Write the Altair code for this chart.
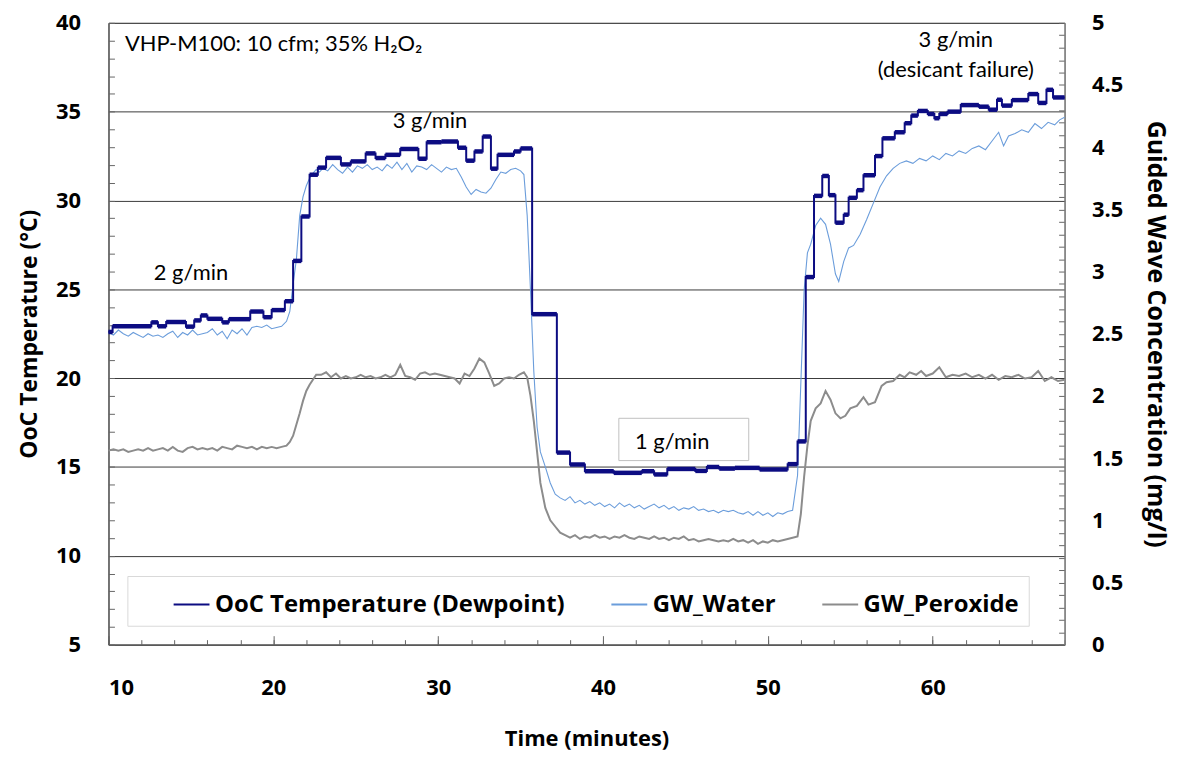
import altair as alt
import pandas as pd

# ---------------- data ----------------
# OoC temperature (dewpoint), step series: start time of each step (min) and value (degC)
dew_t = [10.0, 10.25, 12.6, 13.0, 13.5, 14.7, 15.2, 15.6, 16.0, 16.9,
         17.3, 18.6, 19.4, 19.9, 20.7, 21.2, 21.7, 22.2, 22.7, 23.2,
         24.1, 24.7, 25.6, 26.2, 26.8, 27.7, 28.8, 29.3, 30.2, 31.2,
         31.7, 32.2, 32.7, 33.2, 33.6, 34.6, 35.0, 35.7, 37.2, 38.0,
         38.9, 40.65, 42.35, 43.1, 43.9, 45.6, 46.3, 47.05, 48.0, 49.5,
         51.2, 51.8, 52.3, 52.8, 53.3, 53.7, 54.1, 54.6, 54.9, 55.4,
         55.8, 56.5, 56.95, 57.7, 58.3, 58.7, 59.1, 59.7, 60.1, 60.4,
         60.9, 61.7, 62.8, 63.4, 63.9, 64.2, 64.8, 65.8, 66.4, 66.9,
         67.3]
dew_v = [22.6, 22.92, 23.14, 22.92, 23.16, 22.9, 23.25, 23.53, 23.34, 23.14,
         23.32, 23.75, 23.43, 23.83, 24.33, 26.6, 29.1, 31.45, 31.85, 32.4,
         32.03, 32.2, 32.65, 32.39, 32.57, 32.9, 32.35, 33.28, 33.32, 32.97,
         32.24, 32.76, 33.6, 31.79, 32.57, 32.76, 32.93, 23.6, 15.81, 15.14,
         14.76, 14.67, 14.76, 14.58, 14.89, 14.78, 15.0, 14.91, 14.95, 14.86,
         15.16, 16.44, 25.69, 30.26, 31.38, 30.3, 28.75, 29.2, 30.15, 30.58,
         31.42, 32.5, 33.5, 33.84, 34.35, 34.78, 35.04, 34.87, 34.63, 34.87,
         35.0, 35.37, 35.28, 35.11, 35.67, 35.34, 35.65, 35.99, 35.49, 36.23,
         35.8]
T_END = 68

# Guided wave water concentration (mg/l)
water_t = [10.0, 10.3, 10.6, 10.9, 11.2, 11.5, 11.8, 12.1, 12.4, 12.7,
           13.0, 13.3, 13.6, 13.9, 14.2, 14.5, 14.8, 15.1, 15.4, 15.7,
           16.0, 16.3, 16.6, 16.9, 17.2, 17.5, 17.8, 18.1, 18.4, 18.7,
           19.0, 19.3, 19.6, 19.9, 20.2, 20.5, 20.8, 21.0, 21.2, 21.4,
           21.6, 21.8, 22.0, 22.2, 22.4, 22.6, 22.8, 23.0, 23.3, 23.6,
           23.9, 24.2, 24.5, 24.8, 25.1, 25.4, 25.7, 26.0, 26.3, 26.6,
           26.9, 27.2, 27.5, 27.8, 28.1, 28.4, 28.7, 29.0, 29.3, 29.6,
           29.9, 30.2, 30.5, 30.8, 31.1, 31.4, 31.7, 32.0, 32.3, 32.6,
           32.9, 33.2, 33.5, 33.8, 34.1, 34.4, 34.7, 35.0, 35.2, 35.4,
           35.6, 35.8, 36.0, 36.2, 36.5, 36.8, 37.1, 37.4, 37.7, 38.0,
           38.3, 38.6, 38.9, 39.2, 39.5, 39.8, 40.1, 40.4, 40.7, 41.0,
           41.3, 41.6, 41.9, 42.2, 42.5, 42.8, 43.1, 43.4, 43.7, 44.0,
           44.3, 44.6, 44.9, 45.2, 45.5, 45.8, 46.1, 46.4, 46.7, 47.0,
           47.3, 47.6, 47.9, 48.2, 48.5, 48.8, 49.1, 49.4, 49.7, 50.0,
           50.3, 50.6, 50.9, 51.2, 51.5, 51.8, 52.0, 52.2, 52.4, 52.6,
           52.9, 53.2, 53.5, 53.8, 54.1, 54.3, 54.6, 54.9, 55.2, 55.6,
           56.0, 56.4, 56.8, 57.2, 57.6, 58.0, 58.4, 58.8, 59.2, 59.6,
           60.0, 60.4, 60.8, 61.2, 61.6, 62.0, 62.4, 62.8, 63.2, 63.6,
           64.0, 64.3, 64.6, 65.0, 65.4, 65.8, 66.2, 66.6, 67.0, 67.4,
           67.7, 68.0]
water_c = [2.51, 2.49, 2.53, 2.50, 2.48, 2.51, 2.49, 2.47, 2.50, 2.48,
           2.49, 2.47, 2.50, 2.52, 2.47, 2.51, 2.49, 2.53, 2.49, 2.50,
           2.51, 2.54, 2.49, 2.52, 2.46, 2.53, 2.50, 2.54, 2.49, 2.55,
           2.56, 2.55, 2.57, 2.54, 2.55, 2.56, 2.60, 2.68, 2.90, 3.10,
           3.45, 3.60, 3.69, 3.75, 3.79, 3.82, 3.80, 3.83, 3.81, 3.86,
           3.82, 3.79, 3.84, 3.80, 3.85, 3.83, 3.86, 3.82, 3.84, 3.81,
           3.86, 3.83, 3.88, 3.82, 3.87, 3.80, 3.85, 3.84, 3.82, 3.86,
           3.83, 3.80, 3.84, 3.82, 3.83, 3.76, 3.68, 3.62, 3.66, 3.64,
           3.63, 3.67, 3.74, 3.80, 3.79, 3.82, 3.83, 3.81, 3.78, 3.45,
           2.85, 2.20, 1.75, 1.55, 1.43, 1.30, 1.21, 1.18, 1.16, 1.19,
           1.14, 1.16, 1.13, 1.15, 1.12, 1.14, 1.11, 1.13, 1.10, 1.14,
           1.11, 1.13, 1.10, 1.12, 1.09, 1.11, 1.13, 1.10, 1.12, 1.09,
           1.11, 1.08, 1.10, 1.09, 1.11, 1.08, 1.09, 1.07, 1.08, 1.06,
           1.08, 1.07, 1.08, 1.06, 1.05, 1.07, 1.04, 1.07, 1.04, 1.06,
           1.03, 1.06, 1.05, 1.07, 1.08, 1.36, 2.10, 2.85, 3.15, 3.22,
           3.37, 3.43, 3.38, 3.22, 2.98, 2.92, 3.08, 3.19, 3.21, 3.30,
           3.42, 3.55, 3.68, 3.77, 3.83, 3.87, 3.89, 3.87, 3.91, 3.89,
           3.93, 3.90, 3.95, 3.93, 3.97, 3.95, 3.99, 4.01, 3.98, 4.05,
           4.12, 4.01, 4.09, 4.11, 4.14, 4.12, 4.19, 4.15, 4.20, 4.18,
           4.22, 4.24]

# Guided wave peroxide concentration (mg/l)
perox_t = [10.0, 10.3, 10.6, 10.9, 11.2, 11.5, 11.8, 12.1, 12.4, 12.7,
           13.0, 13.3, 13.6, 13.9, 14.2, 14.5, 14.8, 15.1, 15.4, 15.7,
           16.0, 16.3, 16.6, 16.9, 17.2, 17.5, 17.8, 18.1, 18.4, 18.7,
           19.0, 19.3, 19.6, 19.9, 20.2, 20.5, 20.8, 21.0, 21.2, 21.4,
           21.6, 21.8, 22.0, 22.2, 22.4, 22.6, 22.9, 23.2, 23.5, 23.8,
           24.1, 24.4, 24.7, 25.0, 25.3, 25.6, 25.9, 26.2, 26.5, 26.8,
           27.1, 27.4, 27.7, 28.0, 28.3, 28.6, 28.9, 29.2, 29.5, 29.8,
           30.1, 30.4, 30.7, 31.0, 31.3, 31.6, 31.9, 32.2, 32.5, 32.8,
           33.1, 33.4, 33.7, 34.0, 34.3, 34.6, 34.9, 35.2, 35.4, 35.6,
           35.8, 36.0, 36.2, 36.5, 36.8, 37.1, 37.4, 37.7, 38.0, 38.3,
           38.6, 38.9, 39.2, 39.5, 39.8, 40.1, 40.4, 40.7, 41.0, 41.3,
           41.6, 41.9, 42.2, 42.5, 42.8, 43.1, 43.4, 43.7, 44.0, 44.3,
           44.6, 44.9, 45.2, 45.5, 45.8, 46.1, 46.4, 46.7, 47.0, 47.3,
           47.6, 47.9, 48.2, 48.5, 48.8, 49.1, 49.4, 49.7, 50.0, 50.3,
           50.6, 50.9, 51.2, 51.5, 51.8, 52.0, 52.2, 52.4, 52.6, 52.9,
           53.2, 53.5, 53.8, 54.1, 54.4, 54.7, 55.0, 55.4, 55.8, 56.1,
           56.5, 56.9, 57.2, 57.6, 58.0, 58.3, 58.6, 59.0, 59.3, 59.6,
           60.0, 60.4, 60.8, 61.2, 61.6, 62.0, 62.4, 62.8, 63.2, 63.6,
           64.0, 64.4, 64.8, 65.2, 65.6, 66.0, 66.4, 66.8, 67.2, 67.6,
           68.0]
perox_c = [1.56, 1.57, 1.56, 1.57, 1.55, 1.56, 1.57, 1.56, 1.58, 1.56,
           1.57, 1.58, 1.56, 1.59, 1.56, 1.55, 1.58, 1.59, 1.57, 1.58,
           1.57, 1.58, 1.56, 1.59, 1.58, 1.57, 1.60, 1.59, 1.58, 1.59,
           1.57, 1.59, 1.58, 1.59, 1.58, 1.59, 1.60, 1.63, 1.68, 1.77,
           1.86, 1.96, 2.04, 2.09, 2.13, 2.17, 2.17, 2.19, 2.15, 2.18,
           2.14, 2.16, 2.14, 2.15, 2.17, 2.15, 2.16, 2.14, 2.15, 2.17,
           2.15, 2.17, 2.25, 2.16, 2.15, 2.13, 2.18, 2.19, 2.17, 2.18,
           2.17, 2.16, 2.15, 2.14, 2.10, 2.18, 2.16, 2.22, 2.30, 2.27,
           2.18, 2.08, 2.10, 2.14, 2.15, 2.14, 2.17, 2.19, 2.15, 2.00,
           1.80, 1.55, 1.30, 1.10, 1.00, 0.95, 0.90, 0.88, 0.86, 0.88,
           0.85, 0.87, 0.86, 0.88, 0.86, 0.87, 0.85, 0.87, 0.86, 0.88,
           0.86, 0.85, 0.87, 0.86, 0.85, 0.87, 0.85, 0.86, 0.84, 0.86,
           0.85, 0.87, 0.84, 0.85, 0.83, 0.84, 0.85, 0.84, 0.83, 0.84,
           0.83, 0.85, 0.83, 0.84, 0.82, 0.84, 0.81, 0.83, 0.82, 0.84,
           0.83, 0.84, 0.85, 0.86, 0.87, 1.05, 1.35, 1.60, 1.80, 1.90,
           1.94, 2.04, 1.97, 1.86, 1.82, 1.84, 1.90, 1.92, 1.99, 1.93,
           1.95, 2.08, 2.11, 2.12, 2.17, 2.15, 2.19, 2.17, 2.20, 2.16,
           2.18, 2.23, 2.15, 2.17, 2.16, 2.18, 2.15, 2.17, 2.14, 2.17,
           2.13, 2.16, 2.15, 2.17, 2.14, 2.15, 2.20, 2.12, 2.15, 2.12,
           2.13]

series_names = ["OoC Temperature (Dewpoint)", "GW_Water", "GW_Peroxide"]
series_colors = ["#0c0c82", "#6b9ddb", "#8c8c8c"]

# axis ticks / labels
x_labels = [10, 20, 30, 40, 50, 60]
x_minor = list(range(10, 69, 2))
y_left_labels = [5, 10, 15, 20, 25, 30, 35, 40]
y_left_minor = list(range(5, 41))
y_right_labels = [0, 0.5, 1, 1.5, 2, 2.5, 3, 3.5, 4, 4.5, 5]
y_right_minor = [k / 10 for k in range(51)]

# annotations (data coordinates: time, temperature)
ann_left_text = ["VHP-M100: 10 cfm; 35% H\u2082O\u2082"]
ann_left_t = [11.0]
ann_left_T = [38.8]
ann_center_text = ["2 g/min", "3 g/min", "1 g/min", "3 g/min", "(desicant failure)"]
ann_center_t = [15.0, 29.5, 44.2, 61.4, 61.4]
ann_center_T = [25.9, 34.45, 16.4, 39.05, 37.35]
box_t0, box_t1, box_T0, box_T1 = [40.96], [48.84], [15.36], [17.74]

# ---------------- chart ----------------
W, H = 961, 625
FONT = "Open Sans"
AFONT = "Lato"


def conc_to_T(c):
    # right axis: 0..5 mg/l spans the same height as 5..40 degC
    return 5 + 7 * c


step_df = pd.DataFrame({"t": dew_t + [T_END], "v": dew_v + [dew_v[-1]]})
step_df["series"] = series_names[0]
seg_df = pd.DataFrame({"t0": dew_t, "t1": dew_t[1:] + [T_END], "v": dew_v})
water_df = pd.DataFrame({"t": water_t, "c": water_c})
water_df["series"] = series_names[1]
perox_df = pd.DataFrame({"t": perox_t, "c": perox_c})
perox_df["series"] = series_names[2]
annL_df = pd.DataFrame({"label": ann_left_text, "t": ann_left_t, "T": ann_left_T})
annC_df = pd.DataFrame({"label": ann_center_text, "t": ann_center_t, "T": ann_center_T})
box_df = pd.DataFrame({"t0": box_t0, "t1": box_t1, "T0": box_T0, "T1": box_T1})

xs = alt.Scale(domain=[10, 68], nice=False, zero=False)
ys = alt.Scale(domain=[5, 40], nice=False, zero=False)

lab = dict(labelFont=FONT, labelFontSize=22, labelFontWeight="bold", labelColor="black")
tit = dict(titleFont=FONT, titleFontWeight="bold", titleColor="black")

x_bottom = alt.Axis(orient="bottom", values=x_labels, ticks=False, grid=False,
                    domainColor="#595959", domainWidth=1.5, labelPadding=33,
                    title="Time (minutes)", titleFontSize=22, titlePadding=30, **lab, **tit)
x_minor_ax = alt.Axis(orient="top", offset=-H, values=x_minor, labels=False, domain=False,
                      grid=False, tickSize=5, tickColor="#666666", title=None)
x_major_ax = alt.Axis(orient="top", offset=-H, values=x_labels, labels=False, domain=False,
                      grid=False, tickSize=9, tickColor="#666666", title=None)
y_left = alt.Axis(orient="left", values=y_left_labels, ticks=False, grid=True,
                  gridColor="#3a3a3a", gridWidth=1, domainColor="#595959", domainWidth=1.5,
                  labelPadding=28, title="OoC Temperature (\u00b0C)", titleFontSize=23,
                  titlePadding=14, **lab, **tit)
y_left_minor_ax = alt.Axis(orient="right", offset=-W, values=y_left_minor, labels=False,
                           domain=False, grid=False, tickSize=6, tickColor="#666666", title=None)
y_right = alt.Axis(orient="right", values=[conc_to_T(c) for c in y_right_labels],
                   labelExpr="format((datum.value - 5) / 7, '~g')", ticks=False, grid=False,
                   domainColor="#7f7f7f", domainWidth=1.5, labelPadding=27, labelAlign="left",
                   title="Guided Wave Concentration (mg/l)", titleFontSize=25, titlePadding=20,
                   **lab, **tit)
y_right_minor_ax = alt.Axis(orient="left", offset=-W, values=[conc_to_T(c) for c in y_right_minor],
                            labels=False, domain=False, grid=False, tickSize=6,
                            tickColor="#666666", title=None)

color_enc = alt.Color(
    "series:N",
    scale=alt.Scale(domain=series_names, range=series_colors),
    legend=alt.Legend(title=None, orient="none", legendX=19, legendY=556, direction="horizontal",
                      symbolType="stroke", symbolSize=1300, symbolStrokeWidth=2, symbolOffset=36,
                      labelFont=FONT, labelFontSize=24, labelFontWeight="bold", labelColor="black",
                      labelOffset=4, columnPadding=9, padding=9, labelLimit=0,
                      strokeColor="#d9d9d9", fillColor="white"),
)

perox = alt.Chart(perox_df).transform_calculate(T="5 + 7 * datum.c").mark_line(strokeWidth=2).encode(
    x=alt.X("t:Q", scale=xs, axis=None),
    y=alt.Y("T:Q", scale=ys, axis=y_right_minor_ax),
    color=color_enc,
)
water = alt.Chart(water_df).transform_calculate(T="5 + 7 * datum.c").mark_line(strokeWidth=1.1).encode(
    x=alt.X("t:Q", scale=xs, axis=x_major_ax),
    y=alt.Y("T:Q", scale=ys, axis=y_right),
    color=color_enc,
)
step = alt.Chart(step_df).mark_line(interpolate="step-after", strokeWidth=2).encode(
    x=alt.X("t:Q", scale=xs, axis=x_bottom),
    y=alt.Y("v:Q", scale=ys, axis=y_left),
    color=color_enc,
)
segs = alt.Chart(seg_df).mark_rule(strokeWidth=4.5, color=series_colors[0]).encode(
    x=alt.X("t0:Q", scale=xs, axis=x_minor_ax),
    x2="t1:Q",
    y=alt.Y("v:Q", scale=ys, axis=y_left_minor_ax),
)
box = alt.Chart(box_df).mark_rect(fill="white", stroke="#bfbfbf", strokeWidth=1).encode(
    x=alt.X("t0:Q", scale=xs, axis=None), x2="t1:Q",
    y=alt.Y("T0:Q", scale=ys, axis=None), y2="T1:Q",
)
textL = alt.Chart(annL_df).mark_text(font=AFONT, fontSize=22, color="black", align="left",
                                     baseline="middle").encode(
    x=alt.X("t:Q", scale=xs, axis=None), y=alt.Y("T:Q", scale=ys, axis=None), text="label:N")
textC = alt.Chart(annC_df).mark_text(font=AFONT, fontSize=22, color="black", align="center",
                                     baseline="middle").encode(
    x=alt.X("t:Q", scale=xs, axis=None), y=alt.Y("T:Q", scale=ys, axis=None), text="label:N")

chart = (
    alt.layer(perox, water, step, segs, box, textL, textC)
    .resolve_axis(x="independent", y="independent")
    .properties(width=W, height=H, autosize=alt.AutoSizeParams(type="none"),
                padding={"left": 101, "top": 13, "right": 114, "bottom": 106})
    .configure_view(stroke="#8c8c8c", strokeWidth=1)
)

chart.save("out.html", embed_options={"renderer": "svg", "actions": False})
